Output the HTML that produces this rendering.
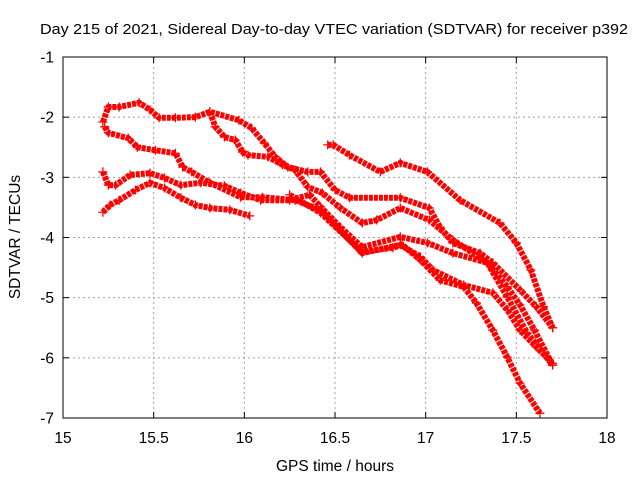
<!DOCTYPE html>
<html><head><meta charset="utf-8"><style>
body{margin:0;background:#fff}
svg{display:block;font-family:"Liberation Sans",sans-serif}
</style></head><body>
<svg id="chart" width="640" height="480" viewBox="0 0 640 480">
<rect width="640" height="480" fill="#fff"/>
<text x="40" y="34" font-size="15" textLength="588" lengthAdjust="spacingAndGlyphs">Day 215 of 2021, Sidereal Day-to-day VTEC variation (SDTVAR) for receiver p392</text>
<text transform="translate(20,237) rotate(-90)" font-size="15.5" text-anchor="middle">SDTVAR / TECUs</text>
<text x="335" y="471" font-size="15.5" text-anchor="middle">GPS time / hours</text>
<g id="grid"></g>
<g id="ticks"></g>
<g id="series"></g>
<rect x="63" y="57" width="544" height="361" fill="none" stroke="#000" stroke-width="1"/>
</svg>
<script>
const xTicks=[15,15.5,16,16.5,17,17.5,18];
const xTickLabels=["15","15.5","16","16.5","17","17.5","18"];
const yTicks=[-1,-2,-3,-4,-5,-6,-7];
const yTickLabels=["-1","-2","-3","-4","-5","-6","-7"];
const seriesA=[[15.22,-2.08],[15.25,-1.83],[15.31,-1.83],[15.42,-1.76],[15.48,-1.88],[15.53,-2.01],[15.62,-2.01],[15.73,-2.0],[15.81,-1.91],[15.97,-2.05],[16.04,-2.18],[16.11,-2.43],[16.17,-2.66],[16.24,-2.83],[16.35,-2.91],[16.42,-2.91],[16.5,-3.21],[16.58,-3.34],[16.86,-3.34],[17.02,-3.51],[17.08,-3.83],[17.15,-4.09],[17.3,-4.26],[17.37,-4.42],[17.52,-4.87],[17.61,-5.15],[17.7,-5.5]];
const seriesB=[[15.81,-1.91],[15.84,-2.16],[15.89,-2.33],[15.95,-2.38],[15.99,-2.58],[16.02,-2.63],[16.13,-2.66],[16.21,-2.79],[16.28,-2.88],[16.35,-3.16],[16.43,-3.26],[16.53,-3.51],[16.65,-3.76],[16.73,-3.71],[16.86,-3.51],[17.02,-3.71],[17.15,-4.04],[17.34,-4.42],[17.45,-4.82],[17.52,-5.12],[17.6,-5.54],[17.7,-6.12]];
const seriesC=[[16.46,-2.46],[16.49,-2.46],[16.58,-2.63],[16.75,-2.91],[16.86,-2.76],[17.01,-2.91],[17.19,-3.38],[17.41,-3.76],[17.5,-4.09],[17.58,-4.54],[17.65,-5.15],[17.7,-5.5]];
const seriesD=[[15.23,-2.16],[15.25,-2.26],[15.36,-2.35],[15.41,-2.5],[15.51,-2.55],[15.62,-2.6],[15.66,-2.83],[15.71,-2.91],[15.81,-3.09],[15.98,-3.33],[16.1,-3.33],[16.28,-3.38],[16.42,-3.54],[16.65,-4.26],[16.86,-4.12],[16.97,-4.32],[17.04,-4.54],[17.21,-4.79],[17.37,-4.92],[17.45,-5.2],[17.52,-5.54],[17.61,-5.82],[17.7,-6.09]];
const seriesE=[[15.22,-2.91],[15.25,-3.13],[15.29,-3.13],[15.37,-2.96],[15.48,-2.93],[15.56,-3.01],[15.65,-3.13],[15.76,-3.09],[15.89,-3.14],[15.98,-3.26],[16.09,-3.38],[16.25,-3.38],[16.36,-3.29],[16.42,-3.49],[16.53,-3.83],[16.65,-4.16],[16.86,-3.99],[17.01,-4.09],[17.15,-4.26],[17.34,-4.42],[17.45,-4.99],[17.56,-5.59],[17.7,-6.12]];
const seriesF=[[16.25,-3.29],[16.42,-3.59],[16.65,-4.24],[16.82,-4.17],[16.87,-4.12],[16.97,-4.37],[17.08,-4.71],[17.21,-4.82],[17.28,-5.09],[17.37,-5.54],[17.45,-5.99],[17.52,-6.42],[17.63,-6.92]];
const seriesG=[[15.22,-3.58],[15.26,-3.46],[15.31,-3.38],[15.4,-3.21],[15.48,-3.09],[15.56,-3.18],[15.65,-3.34],[15.73,-3.46],[15.81,-3.51],[15.92,-3.54],[16.03,-3.64]];
const allSeries=[seriesA,seriesB,seriesC,seriesD,seriesE,seriesF,seriesG];
const NS="http://www.w3.org/2000/svg";
const X0=63,X1=607,Y0=57,Y1=418;
function sx(v){return X0+(v-15)/(18-15)*(X1-X0);}
function sy(v){return Y0+(-1-v)/6*(Y1-Y0);}
function mk(t,a,p){const e=document.createElementNS(NS,t);for(const k in a)e.setAttribute(k,a[k]);p.appendChild(e);return e;}
const grid=document.getElementById('grid'),ticks=document.getElementById('ticks'),ser=document.getElementById('series');
xTicks.forEach((v,i)=>{const x=sx(v);
 if(i>0&&i<xTicks.length-1){const g=mk('line',{x1:x,x2:x,y1:Y0,y2:Y1,stroke:'#a0a0a0','stroke-dasharray':'2,3'},grid);
 
 }
 const t1=mk('line',{x1:x,x2:x,y1:Y1,y2:Y1-6,stroke:'#000'},ticks);
 
 
 const t2=mk('line',{x1:x,x2:x,y1:Y0,y2:Y0+6,stroke:'#000'},ticks);
 
 
 const l=mk('text',{x:x,y:443,'font-size':15.5,'text-anchor':'middle'},ticks);l.textContent=xTickLabels[i];
 
 
});
yTicks.forEach((v,i)=>{const y=sy(v);
 if(i>0&&i<yTicks.length-1){const g=mk('line',{x1:X0,x2:X1,y1:y,y2:y,stroke:'#a0a0a0','stroke-dasharray':'2,3'},grid);
 
 }
 const t1=mk('line',{x1:X0,x2:X0+6,y1:y,y2:y,stroke:'#000'},ticks);
 
 
 const t2=mk('line',{x1:X1,x2:X1-6,y1:y,y2:y,stroke:'#000'},ticks);
 
 
 const l=mk('text',{x:54,y:y+5.5,'font-size':15.5,'text-anchor':'end'},ticks);l.textContent=yTickLabels[i];
 
 
});
allSeries.forEach((s,si)=>{
 const g=mk('g',{},ser);
 
 
 const pl=mk('polyline',{points:s.map(p=>sx(p[0])+','+sy(p[1])).join(' '),fill:'none',stroke:'#ff0000','stroke-width':6,'stroke-linejoin':'round','stroke-dasharray':'4,1'},g);
 
 
 s.forEach(p=>{const x=sx(p[0]),y=sy(p[1]);
  const m=mk('path',{d:`M${x-4.5},${y}H${x+4.5}M${x},${y-4.5}V${y+4.5}`,stroke:'#ff0000','stroke-width':1.3},g);
  
  
 });
});
</script>
</body></html>
